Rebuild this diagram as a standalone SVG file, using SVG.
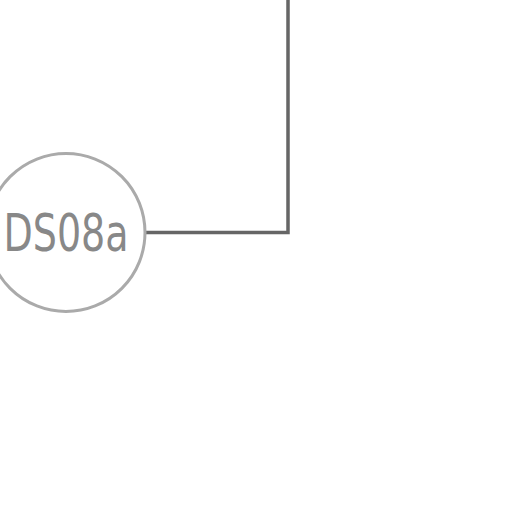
<svg xmlns="http://www.w3.org/2000/svg" width="512" height="512" viewBox="0 0 512 512">
<style>
.conn{fill:none;stroke:#666;stroke-width:3.5}
.node{fill:#fff;stroke:#aaa;stroke-width:3}
.label{font-family:"DejaVu Sans Condensed","Liberation Sans",sans-serif;font-size:52px;fill:#888;text-anchor:middle}
</style>
<rect width="512" height="512" fill="#fff"/>
<g id="connectors">
<path class="conn" d="M145,232.5 H288 V0"/>
</g>
<g id="DS08a">
<circle class="node" cx="66" cy="232.5" r="79"/>
<text class="label" x="66" y="251" textLength="125" lengthAdjust="spacingAndGlyphs">DS08a</text>
</g>
</svg>
